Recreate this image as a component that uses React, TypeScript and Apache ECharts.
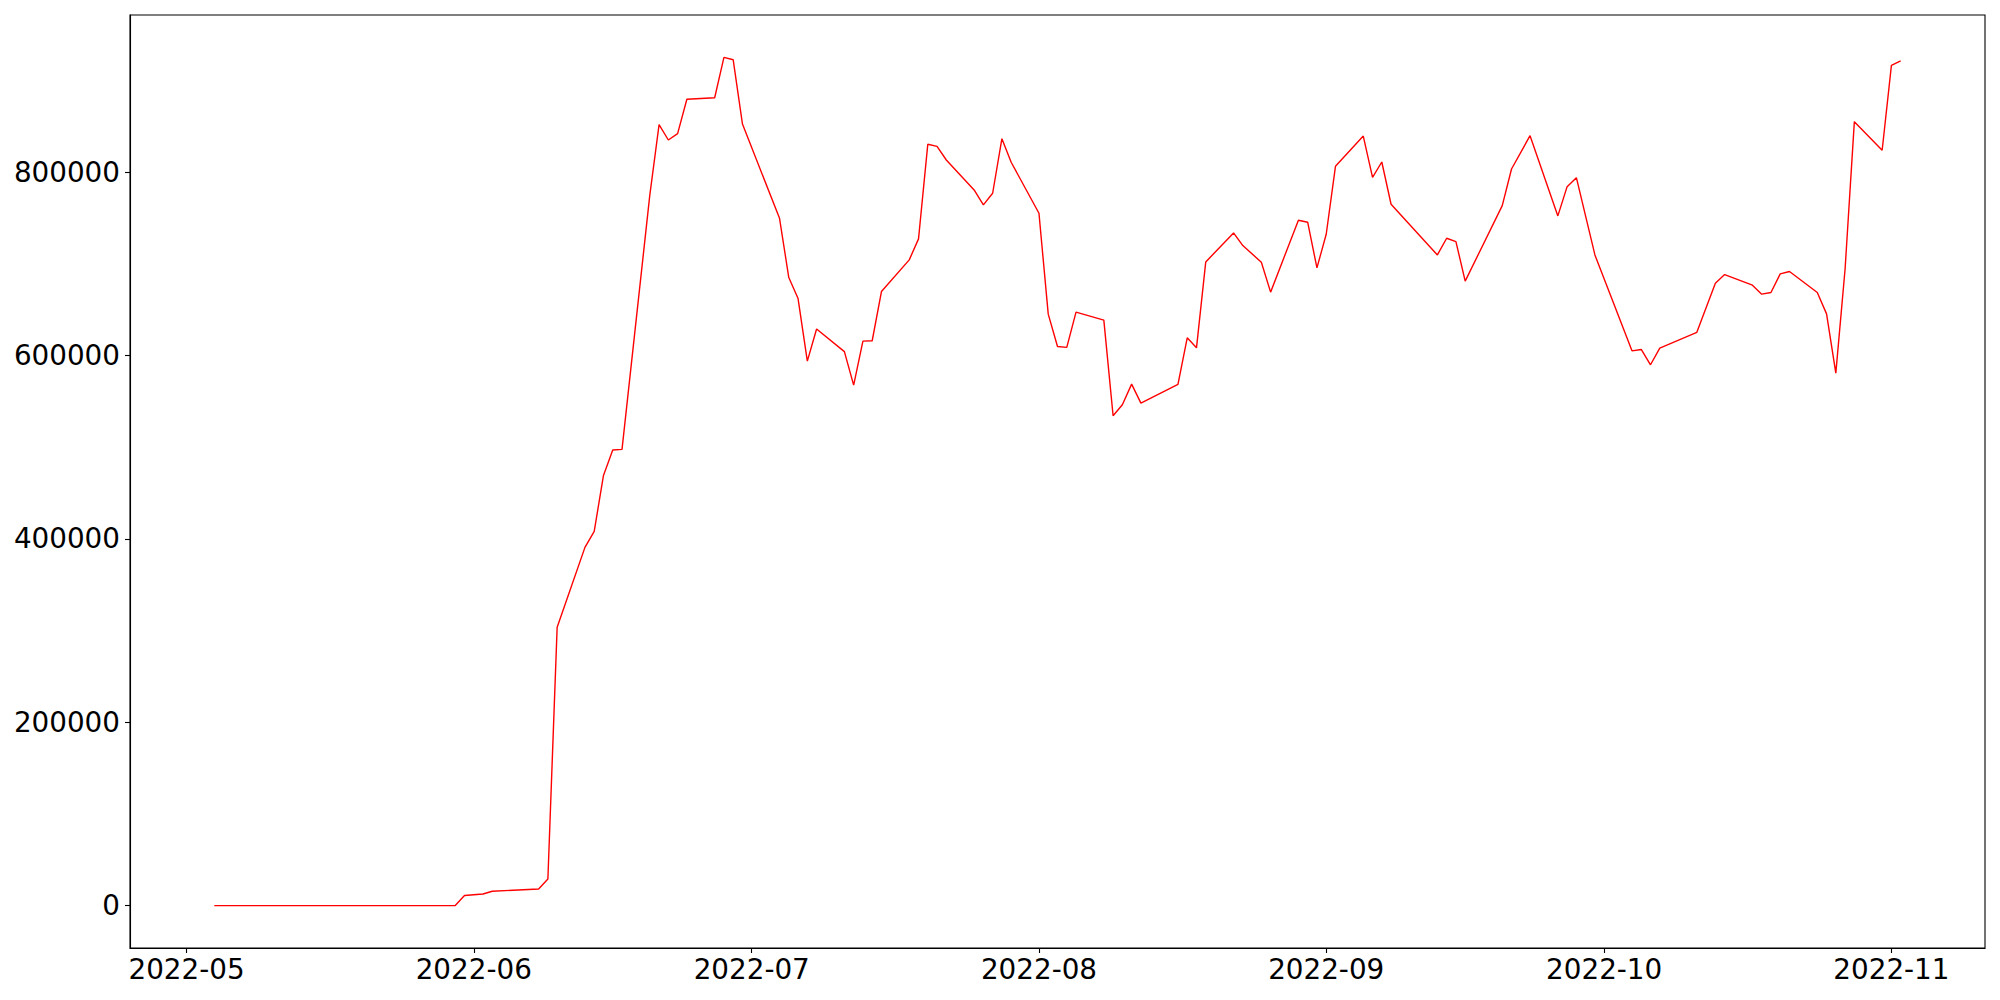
import React, { useEffect, useRef } from "react";
import * as echarts from "echarts";

const dates: string[] = [
  "2022-05-04", "2022-05-30", "2022-05-31", "2022-06-02", "2022-06-03", "2022-06-08",
  "2022-06-09", "2022-06-10", "2022-06-13", "2022-06-14", "2022-06-15", "2022-06-16",
  "2022-06-17", "2022-06-20", "2022-06-21", "2022-06-22", "2022-06-23", "2022-06-24",
  "2022-06-27", "2022-06-28", "2022-06-29", "2022-06-30", "2022-07-04", "2022-07-05",
  "2022-07-06", "2022-07-07", "2022-07-08", "2022-07-11", "2022-07-12", "2022-07-13",
  "2022-07-14", "2022-07-15", "2022-07-18", "2022-07-19", "2022-07-20", "2022-07-21",
  "2022-07-22", "2022-07-25", "2022-07-26", "2022-07-27", "2022-07-28", "2022-07-29",
  "2022-08-01", "2022-08-02", "2022-08-03", "2022-08-04", "2022-08-05", "2022-08-08",
  "2022-08-09", "2022-08-10", "2022-08-11", "2022-08-12", "2022-08-16", "2022-08-17",
  "2022-08-18", "2022-08-19", "2022-08-22", "2022-08-23", "2022-08-25", "2022-08-26",
  "2022-08-29", "2022-08-30", "2022-08-31", "2022-09-01", "2022-09-02", "2022-09-05",
  "2022-09-06", "2022-09-07", "2022-09-08", "2022-09-13", "2022-09-14", "2022-09-15",
  "2022-09-16", "2022-09-20", "2022-09-21", "2022-09-23", "2022-09-26", "2022-09-27",
  "2022-09-28", "2022-09-30", "2022-10-04", "2022-10-05", "2022-10-06", "2022-10-07",
  "2022-10-11", "2022-10-13", "2022-10-14", "2022-10-17", "2022-10-18", "2022-10-19",
  "2022-10-20", "2022-10-21", "2022-10-24", "2022-10-25", "2022-10-26", "2022-10-27",
  "2022-10-28", "2022-10-31", "2022-11-01", "2022-11-02",
];

const values: number[] = [
  0, 0, 11000, 12600, 15600, 18100,
  29000, 303700, 390800, 408300, 469300, 497000,
  497700, 775000, 851900, 835200, 842100, 879600,
  881300, 925300, 922700, 852600, 749800, 685100,
  662200, 594000, 629000, 604300, 567800, 615800,
  616200, 669900, 704400, 727300, 830500, 828300,
  813400, 780700, 764400, 777100, 836600, 810900,
  755300, 645200, 609900, 609000, 647400, 638700,
  534400, 546400, 568900, 548200, 568500, 619400,
  608500, 702200, 733800, 720000, 701900, 669200,
  747700, 745500, 695700, 732400, 806500, 839500,
  794500, 811200, 765100, 709800, 728000, 724400,
  681200, 763600, 803600, 839900, 752400, 784300,
  794100, 709800, 605200, 606700, 590000, 608200,
  625400, 679000, 688400, 676800, 667000, 668800,
  689100, 691700, 668800, 645500, 580900, 694500,
  855200, 824000, 916600, 921600,
];

const xTickLabels: string[] = [
  "2022-05", "2022-06", "2022-07", "2022-08", "2022-09", "2022-10", "2022-11",
];

const yTickValues: number[] = [0, 200000, 400000, 600000, 800000];

const FONT = "DejaVu Sans";

export default function App() {
  const ref = useRef<HTMLDivElement>(null);

  useEffect(() => {
    if (!ref.current) return;
    const chart = echarts.init(ref.current, undefined, { renderer: "svg" });

    const ts = dates.map((d) => new Date(d + "T00:00:00Z").getTime());
    const data = ts.map((t, i) => [t, values[i]]);
    const xFirst = Math.min(...ts);
    const xLast = Math.max(...ts);
    const xSpan = xLast - xFirst;
    const yMaxData = Math.max(...values);
    const yMinData = Math.min(...values);
    const ySpan = yMaxData - yMinData;

    const xTicks = xTickLabels.map((s) => new Date(s + "-01T00:00:00Z").getTime());
    const fmtMonth = (v: number) => {
      const d = new Date(v);
      const m = d.getUTCMonth() + 1;
      return d.getUTCFullYear() + "-" + (m < 10 ? "0" + m : "" + m);
    };

    chart.setOption({
      animation: false,
      backgroundColor: "#ffffff",
      grid: {
        left: 130,
        right: 15,
        top: 15,
        bottom: 52,
        show: true,
        borderColor: "#000000",
        borderWidth: 1.1,
        backgroundColor: "transparent",
      },
      xAxis: {
        type: "value",
        scale: true,
        min: xFirst - 0.05 * xSpan,
        max: xLast + 0.05 * xSpan,
        splitLine: { show: false },
        axisLine: { show: true, onZero: false, lineStyle: { color: "#000000", width: 1.1 } },
        axisTick: {
          show: true,
          inside: false,
          length: 5,
          customValues: xTicks,
          lineStyle: { color: "#000000", width: 1.1 },
        },
        axisLabel: {
          show: true,
          customValues: xTicks,
          formatter: (v: number) => fmtMonth(v),
          color: "#000000",
          fontFamily: FONT,
          fontSize: 27.8,
          margin: 7,
        },
      },
      yAxis: {
        type: "value",
        min: yMinData - 0.05 * ySpan,
        max: yMaxData + 0.05 * ySpan,
        splitLine: { show: false },
        axisLine: { show: true, onZero: false, lineStyle: { color: "#000000", width: 1.1 } },
        axisTick: {
          show: true,
          inside: false,
          length: 5,
          customValues: yTickValues,
          lineStyle: { color: "#000000", width: 1.1 },
        },
        axisLabel: {
          show: true,
          customValues: yTickValues,
          formatter: (v: number) => String(v),
          color: "#000000",
          fontFamily: FONT,
          fontSize: 27.8,
          margin: 10,
        },
      },
      series: [
        {
          type: "line",
          data,
          showSymbol: false,
          symbol: "none",
          lineStyle: { color: "#ff0000", width: 1.4 },
          itemStyle: { color: "#ff0000" },
        },
      ],
    });

    return () => {
      chart.dispose();
    };
  }, []);

  return (
    <div
      ref={ref}
      style={{ position: "fixed", left: 0, top: 0, width: 2000, height: 1000, background: "#fff" }}
    />
  );
}
